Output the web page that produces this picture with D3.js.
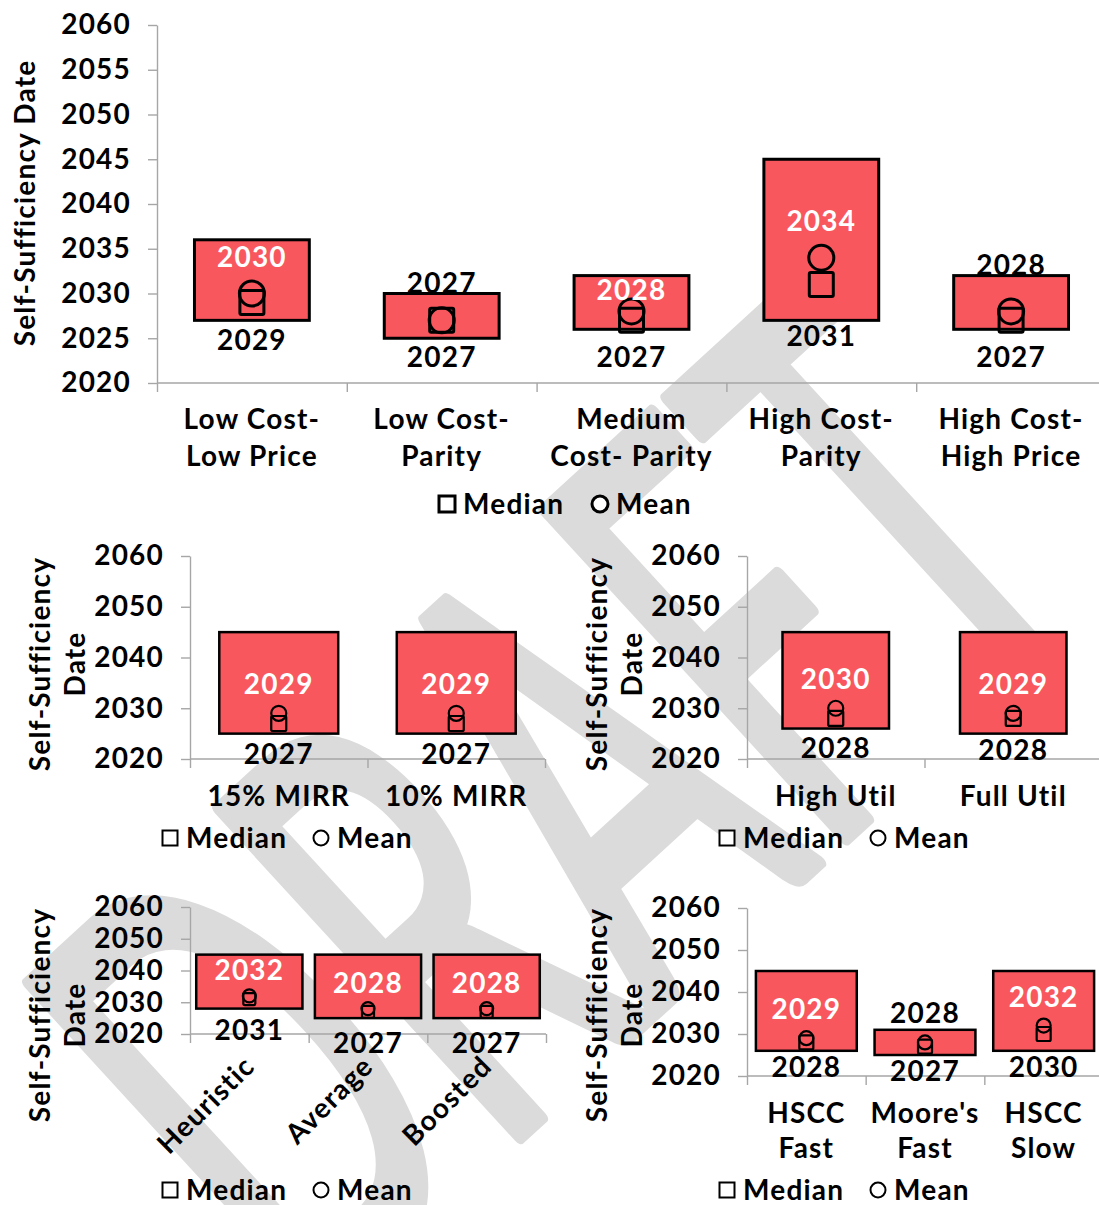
<!DOCTYPE html>
<html>
<head>
<meta charset="utf-8">
<script src="https://cdn.jsdelivr.net/npm/d3@7"></script>
<style>
  body { margin: 0; background: #fff; }
  svg { display: block; }
  text { font-family: Lato, "Open Sans", sans-serif; font-weight: 700; fill: #000; letter-spacing: 1.2px; }
  text.mark { letter-spacing: 0; }
</style>
</head>
<body>
<svg id="chart" width="1099" height="1205"></svg>
<script>
// ---- Cost / price scenarios ----
const costCats   = [["Low Cost-", "Low Price"], ["Low Cost-", "Parity"], ["Medium", "Cost- Parity"], ["High Cost-", "Parity"], ["High Cost-", "High Price"]];
const costMin    = [2027, 2025, 2026, 2027, 2026];
const costMax    = [2036, 2030, 2032, 2045, 2032];
const costMedian = [2029, 2027, 2027, 2031, 2027];
const costMean   = [2030, 2027, 2028, 2034, 2028];

// ---- Investment hurdle ----
const mirrCats   = [["15% MIRR"], ["10% MIRR"]];
const mirrMin    = [2025, 2025];
const mirrMax    = [2045, 2045];
const mirrMedian = [2027, 2027];
const mirrMean   = [2029, 2029];

// ---- Utilisation ----
const utilCats   = [["High Util"], ["Full Util"]];
const utilMin    = [2026, 2025];
const utilMax    = [2045, 2045];
const utilMedian = [2028, 2028];
const utilMean   = [2030, 2029];

// ---- Dispatch strategy ----
const stratCats   = ["Heuristic", "Average", "Boosted"];
const stratMin    = [2028, 2025, 2025];
const stratMax    = [2045, 2045, 2045];
const stratMedian = [2031, 2027, 2027];
const stratMean   = [2032, 2028, 2028];

// ---- Cost decline trajectories ----
const trajCats   = [["HSCC", "Fast"], ["Moore's", "Fast"], ["HSCC", "Slow"]];
const trajMin    = [2026, 2025, 2026];
const trajMax    = [2045, 2031, 2045];
const trajMedian = [2028, 2027, 2030];
const trajMean   = [2029, 2028, 2032];

const yDomain = [2020, 2060];
const legendNames = ["Median", "Mean"];
const yTitle = "Self-Sufficiency Date";

const BAR = "#F9575E";
const AXIS = "#a6a6a6";
const WATERMARK = "#dbdbdb";

const svg = d3.select("#chart");

// Watermark behind everything
svg.append("text")
  .attr("class", "mark")
  .text("DRAFT")
  .attr("transform", "translate(557,800) rotate(-42.5) scale(0.547,1)")
  .attr("text-anchor", "middle")
  .attr("y", 223)
  .attr("stroke", WATERMARK)
  .attr("stroke-width", 15)
  .attr("stroke-linejoin", "round")
  .style("fill", WATERMARK)
  .style("font-size", "620px")
  .style("font-weight", 400);

function drawPanel(c) {
  const g = svg.append("g");
  const n = c.cats.length;
  const y = d3.scaleLinear().domain(yDomain).range([c.bottom, c.top]);
  const pad = 1 - c.barFrac;
  const x = d3.scaleBand().domain(d3.range(n)).range([c.left, c.right])
    .paddingInner(pad).paddingOuter(pad / 2);
  const cx = i => x(i) + x.bandwidth() / 2;

  // y axis
  const ya = g.append("g").attr("transform", `translate(${c.left},0)`)
    .call(d3.axisLeft(y).tickValues(d3.range(yDomain[0], yDomain[1] + 1, c.step))
      .tickFormat(d3.format("d")).tickSize(9).tickSizeOuter(0).tickPadding(17));
  // x axis with ticks at category boundaries
  const xe = d3.scaleLinear().domain([0, n]).range([c.left, c.right]);
  const xa = g.append("g").attr("transform", `translate(0,${c.bottom})`)
    .call(d3.axisBottom(xe).tickValues(d3.range(n + 1)).tickFormat("").tickSize(9).tickSizeOuter(0));
  [ya, xa].forEach(a => {
    a.attr("font-family", null).attr("font-size", null);
    a.selectAll(".domain, .tick line").attr("stroke", AXIS).attr("stroke-width", 1.4);
    a.selectAll("text").style("font-size", "28px").attr("fill", "#000");
  });
  xa.select(".domain").attr("d", `M${c.left},0H${c.right}`);

  const idx = d3.range(n);

  // floating range bars
  g.selectAll("rect.bar").data(idx).join("rect")
    .attr("x", i => x(i))
    .attr("width", x.bandwidth())
    .attr("y", i => y(c.hi[i]))
    .attr("height", i => y(c.lo[i]) - y(c.hi[i]))
    .attr("fill", BAR)
    .attr("stroke", "#000")
    .attr("stroke-width", c.barStroke);

  // median (square) and mean (circle) markers
  g.selectAll("rect.med").data(idx).join("rect")
    .attr("x", i => cx(i) - c.sq / 2)
    .attr("y", i => y(c.med[i]) - c.sq / 2)
    .attr("width", c.sq).attr("height", c.sq)
    .attr("rx", 1.5)
    .attr("fill", "none").attr("stroke", "#000").attr("stroke-width", c.mw);
  g.selectAll("circle.mean").data(idx).join("circle")
    .attr("cx", i => cx(i))
    .attr("cy", i => y(c.mean[i]))
    .attr("r", c.r)
    .attr("fill", "none").attr("stroke", "#000").attr("stroke-width", c.mw);

  // value labels
  idx.forEach(i => {
    const top = y(c.hi[i]);
    const ly = y(c.mean[i]) - c.meanOff + (c.meanNudge ? c.meanNudge[i] : 0);
    g.append("text")
      .attr("x", cx(i)).attr("y", ly).attr("dy", "0.36em")
      .attr("text-anchor", "middle")
      .style("font-size", "28px")
      .style("fill", ly > top + 6 ? "#fff" : "#000")
      .text(c.mean[i]);
    const my = Math.max(y(c.med[i]) + c.medOff, y(c.lo[i]) + 16);
    g.append("text")
      .attr("x", cx(i)).attr("y", my).attr("dy", "0.36em")
      .attr("text-anchor", "middle")
      .style("font-size", "28px")
      .text(c.med[i]);
  });

  // category labels
  if (c.rotated) {
    idx.forEach(i => {
      g.append("text")
        .attr("transform", `translate(${cx(i) + 7},${c.bottom + 34}) rotate(-45)`)
        .attr("text-anchor", "end")
        .style("font-size", "28px")
        .text(c.cats[i]);
    });
  } else {
    idx.forEach(i => {
      const t = g.append("text").attr("text-anchor", "middle").style("font-size", "28px");
      c.cats[i].forEach((line, k) => {
        t.append("tspan").attr("x", cx(i)).attr("y", c.catY[k]).attr("dy", "0.36em").text(line);
      });
    });
  }

  // y title
  const tt = g.append("text")
    .attr("transform", `translate(${c.titleX[0]},${c.titleY}) rotate(-90)`)
    .attr("text-anchor", "middle")
    .style("font-size", "28px");
  c.titleLines.forEach((line, k) => {
    tt.append("tspan").attr("x", 0).attr("y", c.titleX[k] - c.titleX[0]).attr("dy", "0.36em").text(line);
  });

  // legend
  const L = c.legend;
  g.append("rect")
    .attr("x", L.sqX - L.size / 2).attr("y", L.y - L.size / 2)
    .attr("width", L.size).attr("height", L.size)
    .attr("fill", "#fff").attr("stroke", "#000").attr("stroke-width", L.stroke);
  g.append("text").attr("x", L.t1).attr("y", L.y).attr("dy", "0.36em")
    .style("font-size", "28px").text(legendNames[0]);
  g.append("circle")
    .attr("cx", L.cX).attr("cy", L.y).attr("r", L.size / 2)
    .attr("fill", "#fff").attr("stroke", "#000").attr("stroke-width", L.stroke);
  g.append("text").attr("x", L.t2).attr("y", L.y).attr("dy", "0.36em")
    .style("font-size", "28px").text(legendNames[1]);
}

drawPanel({
  cats: costCats, lo: costMin, hi: costMax, med: costMedian, mean: costMean,
  left: 157, right: 1106, top: 25, bottom: 383, step: 5,
  barFrac: 0.605, sq: 24, r: 12.5, mw: 3, barStroke: 3,
  meanOff: 37, medOff: 37, meanNudge: [0, 0, 16, 0, -9],
  catY: [419, 456],
  titleLines: [yTitle], titleX: [25], titleY: 203,
  legend: { y: 504, sqX: 447, t1: 463, cX: 600, t2: 616, size: 16, stroke: 3 }
});

drawPanel({
  cats: mirrCats, lo: mirrMin, hi: mirrMax, med: mirrMedian, mean: mirrMean,
  left: 190, right: 545, top: 556, bottom: 759, step: 10,
  barFrac: 0.67, sq: 15, r: 7.5, mw: 2.2, barStroke: 2.5,
  meanOff: 29, medOff: 30,
  catY: [796],
  titleLines: ["Self-Sufficiency", "Date"], titleX: [40, 75], titleY: 664,
  legend: { y: 838, sqX: 170, t1: 186, cX: 321, t2: 337, size: 15, stroke: 2 }
});

drawPanel({
  cats: utilCats, lo: utilMin, hi: utilMax, med: utilMedian, mean: utilMean,
  left: 747, right: 1102, top: 556, bottom: 759, step: 10,
  barFrac: 0.6, sq: 15, r: 7.5, mw: 2.2, barStroke: 2.5,
  meanOff: 29, medOff: 30,
  catY: [796],
  titleLines: ["Self-Sufficiency", "Date"], titleX: [597, 632], titleY: 664,
  legend: { y: 838, sqX: 727, t1: 743, cX: 878, t2: 894, size: 15, stroke: 2 }
});

drawPanel({
  cats: stratCats, lo: stratMin, hi: stratMax, med: stratMedian, mean: stratMean,
  left: 190, right: 546, top: 907, bottom: 1034, step: 10,
  barFrac: 0.895, sq: 12, r: 6.5, mw: 2.2, barStroke: 2.5,
  meanOff: 26, medOff: 31, rotated: true,
  titleLines: ["Self-Sufficiency", "Date"], titleX: [40, 75], titleY: 1015,
  legend: { y: 1190, sqX: 170, t1: 186, cX: 321, t2: 337, size: 15, stroke: 2 }
});

drawPanel({
  cats: trajCats, lo: trajMin, hi: trajMax, med: trajMedian, mean: trajMean,
  left: 747, right: 1103, top: 908, bottom: 1076, step: 10,
  barFrac: 0.85, sq: 14, r: 7, mw: 2.2, barStroke: 2.5,
  meanOff: 29, medOff: 22,
  catY: [1113, 1148],
  titleLines: ["Self-Sufficiency", "Date"], titleX: [597, 632], titleY: 1015,
  legend: { y: 1190, sqX: 727, t1: 743, cX: 878, t2: 894, size: 15, stroke: 2 }
});
</script>
</body>
</html>
